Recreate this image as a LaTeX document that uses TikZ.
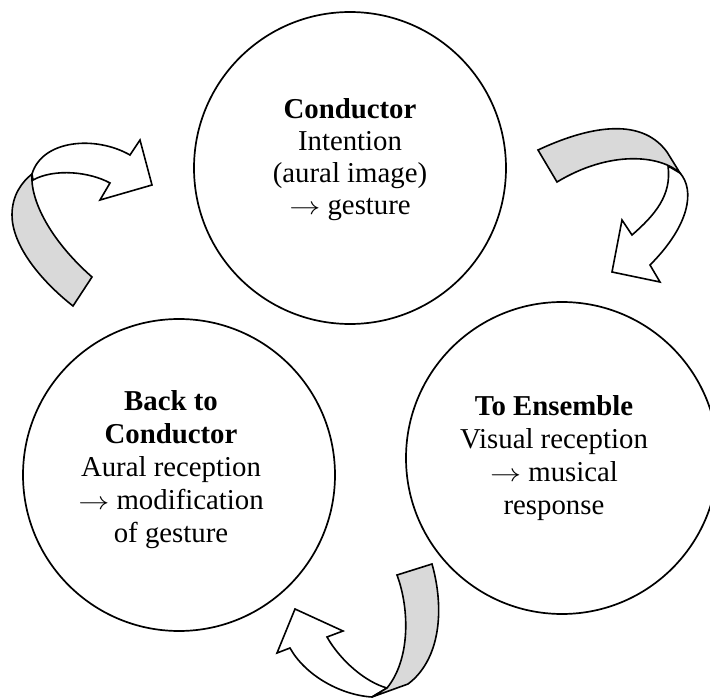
\documentclass[tikz,border=0pt]{standalone}
\usepackage{graphicx}
\usepackage{fontspec}
\setmainfont{Liberation Serif}
\definecolor{ribbon}{RGB}{217,217,217}
\newcommand{\ra}{\scalebox{1.25}[1]{\ensuremath{\rightarrow}}}
\begin{document}
\begin{tikzpicture}[x=1pt,y=-1pt,
  stage/.style={draw, circle, line width=1.7pt, minimum size=312pt, inner sep=0pt},
  stagetext/.style={align=center, inner sep=0pt, font=\fontsize{28.8}{33}\selectfont},
  ribbonback/.style={draw, fill=white, line width=1.6pt, line join=miter},
  ribbonfront/.style={draw, fill=ribbon, line width=1.6pt, line join=miter}]
\useasboundingbox (0,0) rectangle (710,698);
\clip (0,0) rectangle (710,698);

% stages
\node[stage] (c1) at (350,168) {};
\node[stage] (c2) at (562,458) {};
\node[stage] (c3) at (179,475) {};

\node[stagetext, font=\fontsize{28.8}{32}\selectfont] (t1) at (350,160) {\textbf{Conductor}\\Intention\\(aural image)\\\ra{} gesture};
\node[stagetext] (t2) at (554,458) {\textbf{To Ensemble}\\Visual reception\\\ra{} musical\\response};
\node[stagetext] (t3) at (171,470) {\textbf{Back to}\\\textbf{Conductor}\\Aural reception\\\ra{} modification\\of gesture};

% top-left curved arrow (towards Conductor)
\draw[ribbonback] (32,174) .. controls (42,140) and (95,135) .. (130,155)
  -- (140,140) -- (152,185) -- (100,200) -- (110,183)
  .. controls (90,172) and (55,168) .. (33,180) -- cycle;
\draw[ribbonfront] (73,306) .. controls (40,280) and (12,245) .. (12,215)
  .. controls (12,195) and (22,182) .. (32,174)
  .. controls (30,200) and (50,240) .. (92,277) -- cycle;

% top-right curved arrow (towards Ensemble)
\draw[ribbonback] (668,166) .. controls (672,195) and (655,215) .. (632,235)
  -- (622,220) -- (612,272) -- (660,282) -- (650,265)
  .. controls (690,225) and (695,190) .. (680,173) -- cycle;
\draw[ribbonfront] (538,150) .. controls (585,128) and (640,115) .. (667,152)
  -- (680,173) .. controls (660,155) and (610,150) .. (557,182) -- cycle;

% bottom curved arrow (back to Conductor)
\draw[ribbonback] (372,697) .. controls (340,695) and (305,675) .. (290,648)
  -- (277,653) -- (295,609) -- (343,631) -- (327,637)
  .. controls (340,660) and (365,682) .. (387,688) -- cycle;
\draw[ribbonfront] (397,575) .. controls (410,610) and (410,660) .. (387,688)
  -- (372,697) -- (408,684) .. controls (440,660) and (445,610) .. (432,564) -- cycle;
\end{tikzpicture}
\end{document}
